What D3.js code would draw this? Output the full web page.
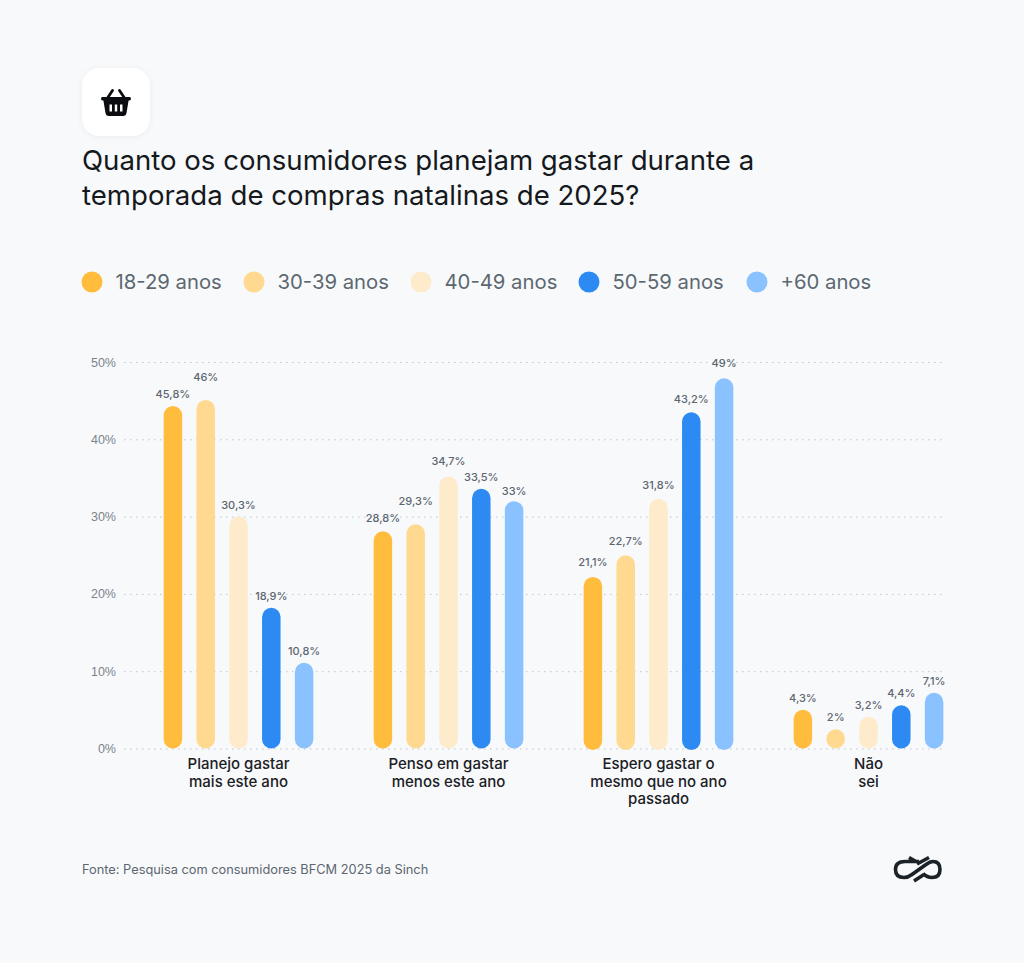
<!DOCTYPE html>
<html lang="pt">
<head>
<meta charset="utf-8">
<title>Quanto os consumidores planejam gastar</title>
<script src="https://cdn.jsdelivr.net/npm/d3@7/dist/d3.min.js"></script>
<style>
  html, body { margin: 0; padding: 0; background: #f8f9fb; }
  svg { display: block; font-family: Inter, "Noto Sans", sans-serif; }
  .grid-axis .domain { display: none; }
  .grid-axis line { stroke: #bfc5ca; stroke-width: 1; stroke-dasharray: 1.5 4.5; }
  .grid-axis text { fill: #7b848b; font-size: 12.5px; }
</style>
</head>
<body>
<svg id="chart" width="1024" height="963"></svg>
<script>
// Data
const titleLines = ['Quanto os consumidores planejam gastar durante a', 'temporada de compras natalinas de 2025?'];
const ageGroups = ['18-29 anos', '30-39 anos', '40-49 anos', '50-59 anos', '+60 anos'];
const ageColors = ['#ffbc3d', '#ffd98f', '#fdebcb', '#2e8af3', '#8ac1ff'];
const answers = [
  ['Planejo gastar', 'mais este ano'],
  ['Penso em gastar', 'menos este ano'],
  ['Espero gastar o', 'mesmo que no ano', 'passado'],
  ['Não', 'sei']
];
// bar heights as drawn (they do not always agree with the printed labels)
const barValues = [
  [44.3, 45.1, 30.0, 18.2, 11.1],
  [28.1, 29.0, 35.2, 33.6, 32.0],
  [22.2, 25.0, 32.3, 43.5, 47.9],
  [5.0, 2.5, 4.1, 5.6, 7.2]
];
const barLabels = [
  ['45,8%', '46%', '30,3%', '18,9%', '10,8%'],
  ['28,8%', '29,3%', '34,7%', '33,5%', '33%'],
  ['21,1%', '22,7%', '31,8%', '43,2%', '49%'],
  ['4,3%', '2%', '3,2%', '4,4%', '7,1%']
];
const yTicks = [0, 10, 20, 30, 40, 50];
const sourceText = 'Fonte: Pesquisa com consumidores BFCM 2025 da Sinch';

const svg = d3.select('#chart');

// labels sit unevenly above the bars in the source, default gap is 8
const labelGapOverrides = {
  '0-1': 19, '1-0': 9, '1-1': 19, '1-2': 11, '1-4': 6,
  '2-0': 11, '2-1': 10, '2-2': 10, '2-3': 9, '2-4': 11
};

// icon card
const defs = svg.append('defs');
const shadow = defs.append('filter').attr('id', 'cardShadow')
  .attr('x', '-20%').attr('y', '-20%').attr('width', '140%').attr('height', '140%');
shadow.append('feDropShadow').attr('dx', 0).attr('dy', 1).attr('stdDeviation', 3)
  .attr('flood-color', '#000').attr('flood-opacity', 0.05);

svg.append('rect').attr('x', 82).attr('y', 68).attr('width', 68).attr('height', 68)
  .attr('rx', 18).attr('fill', '#fff').attr('filter', 'url(#cardShadow)');

const basket = svg.append('g').attr('fill', '#0b0d10');
basket.append('path')
  .attr('fill-rule', 'evenodd')
  .attr('d', 'M102.5 97H129.5Q131 97 131 98.7T129.5 100.5H128.6L126.4 113.6Q126 116 123.6 116H108.4Q106 116 105.6 113.6L103.4 100.5H102.5Q101 100.5 101 98.7T102.5 97Z' +
    'M109.5 104.5V111.5H112V104.5ZM114.8 104.5V111.5H117.2V104.5ZM120 104.5V111.5H122.5V104.5Z');
basket.append('path')
  .attr('fill', 'none').attr('stroke', '#0b0d10').attr('stroke-width', 2.8).attr('stroke-linecap', 'round')
  .attr('d', 'M112.5 90.5L107.5 98M119.5 90.5L124.5 98');

// title
svg.append('g').selectAll('text').data(titleLines).join('text')
  .attr('x', 82)
  .attr('y', (d, i) => 170 + i * 35)
  .attr('font-size', 27.6)
  .attr('fill', '#15191d')
  .text(d => d);

// legend
const legendX = d3.scaleOrdinal().domain(ageGroups).range([92, 254, 421, 589, 757]);
const legend = svg.append('g').selectAll('g').data(ageGroups).join('g')
  .attr('transform', d => `translate(${legendX(d)},282)`);
legend.append('circle').attr('r', 10.5).attr('fill', (d, i) => ageColors[i]);
legend.append('text').attr('x', 23.5).attr('y', 6.5).attr('font-size', 20.3).attr('fill', '#5c6870').text(d => d);

// scales
const y = d3.scaleLinear().domain([0, 50]).range([748.5, 362]);
const groupX = d3.scalePoint().domain(d3.range(answers.length)).range([238.5, 868.5]);
const barX = d3.scalePoint().domain(d3.range(ageGroups.length)).range([-65.6, 65.6]);
const barWidth = 18.5;

// axis and dotted grid
svg.append('g')
  .attr('class', 'grid-axis')
  .attr('transform', 'translate(124,0)')
  .call(d3.axisLeft(y).tickValues(yTicks).tickFormat(d => d + '%').tickSize(-819).tickPadding(8));

// bars
const groups = svg.append('g').selectAll('g').data(barValues).join('g')
  .attr('transform', (d, i) => `translate(${groupX(i)},0)`);

groups.each(function (vals, g) {
  const base = g === 2 ? y(-0.2) : y(0); // third group sits a touch lower in the source
  const sel = d3.select(this);
  sel.selectAll('rect').data(vals).join('rect')
    .attr('x', (d, i) => barX(i) - barWidth / 2)
    .attr('y', d => y(d))
    .attr('width', barWidth)
    .attr('height', d => base - y(d))
    .attr('rx', barWidth / 2)
    .attr('fill', (d, i) => ageColors[i]);
  sel.selectAll('text.value').data(vals).join('text')
    .attr('class', 'value')
    .attr('x', (d, i) => barX(i))
    .attr('y', (d, i) => y(d) - (labelGapOverrides[`${g}-${i}`] || 8))
    .attr('text-anchor', 'middle')
    .attr('font-size', 11)
    .attr('font-weight', 500)
    .attr('fill', '#5c6670')
    .text((d, i) => barLabels[g][i]);
  sel.selectAll('text.answer').data(answers[g]).join('text')
    .attr('class', 'answer')
    .attr('y', (d, i) => 769 + i * 17.5)
    .attr('text-anchor', 'middle')
    .attr('font-size', 15)
    .attr('font-weight', 500)
    .attr('fill', '#1b2025')
    .text(d => d);
});

// footer
svg.append('text').attr('x', 82).attr('y', 874).attr('font-size', 12.8).attr('fill', '#5c6670').text(sourceText);

// logo
svg.append('path')
  .attr('fill', 'none').attr('stroke', '#1b2329').attr('stroke-width', 3.6)
  .attr('d', 'M919 861.5H905Q895.5 861.5 895.5 869.5Q895.5 877.5 904 877.5Q908 877.5 912 874.5L926 864.5Q930 861.5 933 861.5Q940 861.5 940 869.5Q940 877.5 932 877.5Q927 877.5 923 873.5M914 881L924 874.5M909 857.5L917 862M929 857.5L917 864');
</script>
</body>
</html>
